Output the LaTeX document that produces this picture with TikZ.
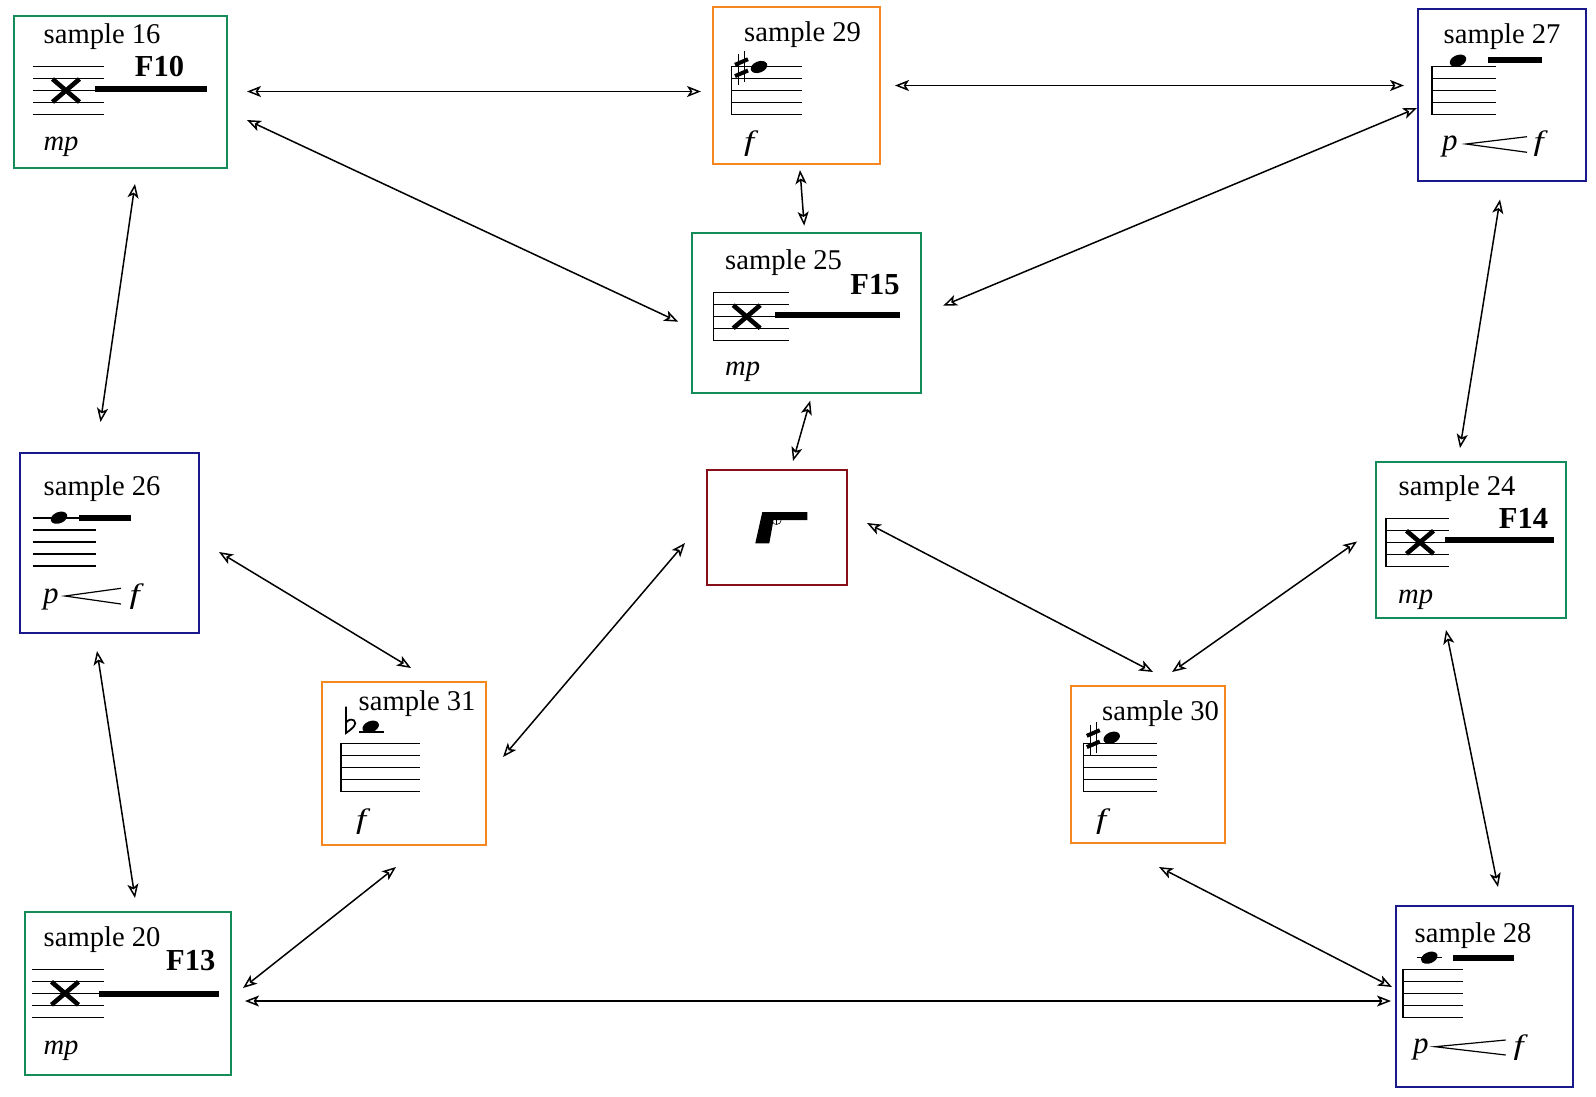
\documentclass[tikz,border=0pt]{standalone}
\usepackage{fontspec}
\setmainfont{Liberation Serif}
\newfontface\dynface[FakeStretch=1.3]{Liberation Serif Italic}
\usetikzlibrary{arrows.meta}

\definecolor{featgreen}{RGB}{20,140,90}
\definecolor{featorange}{RGB}{245,135,30}
\definecolor{featblue}{RGB}{25,25,140}
\definecolor{featred}{RGB}{135,15,25}

% x, top line y, right end
\newcommand{\staffl}[3]{\foreach \k in {0,1,2,3,4} {\draw[staffline] (#1,#2+12*\k) -- (#3,#2+12*\k);}}
\newcommand{\staffbar}[2]{\draw[line width=1.6pt] (#1,#2-0.5) -- (#1,#2+48.5);}
\newcommand{\xhead}[2]{\draw[line width=4.6pt] (#1-13.5,#2-11.5) -- (#1+13.5,#2+11.5) (#1-13.5,#2+11.5) -- (#1+13.5,#2-11.5);}
\newcommand{\notehd}[2]{\fill[rotate around={22:(#1,#2)}] (#1,#2) ellipse [x radius=8.6, y radius=5.6];}
\newcommand{\sharpsgn}[2]{\draw[line width=1.3pt] (#1-3,#2-14) -- (#1-3,#2+17) (#1+3,#2-17) -- (#1+3,#2+14);
	\draw[line width=4pt] (#1-6.5,#2-2.7) -- (#1+6.5,#2-8.3) (#1-6.5,#2+8.6) -- (#1+6.5,#2+3);}

\begin{document}
\begin{tikzpicture}[x=1pt,y=-1pt]

\tikzset{box/.style={rectangle,inner sep=0pt,line width=1.9pt,draw},}
\tikzset{fgreen/.style={box,draw=featgreen},}
\tikzset{forange/.style={box,draw=featorange},}
\tikzset{fblue/.style={box,draw=featblue},}
\tikzset{fred/.style={box,draw=featred},}
\tikzset{txt/.style={inner sep=0pt,anchor=base west,font=\fontsize{28.6}{32}\selectfont},}
\tikzset{dyn/.style={txt,font=\fontsize{28.6}{32}\selectfont\itshape},}
\tikzset{dynp/.style={txt,font=\fontsize{31}{34}\selectfont\itshape},}
\tikzset{dynf/.style={txt,font=\fontsize{28}{32}\dynface},}
\tikzset{ftag/.style={inner sep=0pt,anchor=base,font=\fontsize{30.5}{34}\selectfont\bfseries},}
\tikzset{staffline/.style={line width=1.1pt},}
\tikzset{dur/.style={line width=5.8pt},}
\tikzset{link/.style={<->,line width=1.5pt,>={Stealth[open,length=14pt,width=11pt,inset=3.5pt]}},}

\useasboundingbox (0,0) rectangle (1596,1096);

	\draw
		(120.5,92) node[fgreen,minimum width=213pt,minimum height=152pt] (s16) {}
		(796.5,85.5) node[forange,minimum width=167pt,minimum height=157pt] (s29) {}
		(1502,95) node[fblue,minimum width=168pt,minimum height=172pt] (s27) {}
		(806.5,313) node[fgreen,minimum width=229pt,minimum height=160pt] (s25) {}
		(777,527.5) node[fred,minimum width=140pt,minimum height=115pt] (gun) {}
		(1471,540) node[fgreen,minimum width=190pt,minimum height=156pt] (s24) {}
		(109.5,543) node[fblue,minimum width=179pt,minimum height=180pt] (s26) {}
		(404,763.5) node[forange,minimum width=164pt,minimum height=163pt] (s31) {}
		(1148,764.5) node[forange,minimum width=154pt,minimum height=157pt] (s30) {}
		(128,993.5) node[fgreen,minimum width=206pt,minimum height=163pt] (s20) {}
		(1484.5,996.5) node[fblue,minimum width=177pt,minimum height=181pt] (s28) {};

	% sample 16
	\node[txt] (t16) at (43.5,43.7) {sample 16};
	\node[ftag] (f16) at (159.5,76) {F10};
	\node[dyn] (d16) at (43.3,150.5) {mp};
	\staffl{33}{66.7}{104}
	\xhead{66}{90.5}
	\draw[dur] (95,88.7) -- (207,88.7);

	% sample 29
	\node[txt] (t29) at (744,41.7) {sample 29};
	\node[dynf] (d29) at (744,150) {f};
	\staffl{731}{66.7}{801.7}
	\staffbar{731.5}{66.7}
	\sharpsgn{741.5}{67.5}
	\notehd{759}{67}

	% sample 27
	\node[txt] (t27) at (1443.5,43) {sample 27};
	\node[dynp] (p27) at (1442,150) {p};
	\node[dynf] (d27) at (1533.5,150.5) {f};
	\staffl{1431.7}{66.7}{1495.7}
	\staffbar{1431.7}{66.7}
	\notehd{1458}{60.7}
	\draw[dur] (1488,60) -- (1542,60);
	\draw[line width=1.2pt] (1527,136.7) -- (1466,144) -- (1527,152.3);

	% sample 25
	\node[txt] (t25) at (725,269.3) {sample 25};
	\node[ftag] (f25) at (875,294) {F15};
	\node[dyn] (d25) at (725,375.5) {mp};
	\staffl{713.3}{292.7}{789}
	\staffbar{713.3}{292.7}
	\xhead{746.7}{316.7}
	\draw[dur] (775,314.7) -- (900,314.7);

	% center
	\fill (762.3,512) -- (807.3,512) -- (807.3,520) -- (773.5,520) -- (769.3,543.3) -- (755.3,543.3) -- cycle;
	\draw[line width=0.6pt] (781.2,520) arc [start angle=0,end angle=150,radius=4.5];
	\draw[line width=0.6pt] (776.7,520) -- (776.7,523.5);

	% sample 24
	\node[txt] (t24) at (1398.5,495) {sample 24};
	\node[ftag] (f24) at (1523.5,528.3) {F14};
	\node[dyn] (d24) at (1398,603) {mp};
	\staffl{1386}{518.3}{1449.3}
	\staffbar{1386}{518.3}
	\xhead{1420}{542.3}
	\draw[dur] (1445,539.7) -- (1554,539.7);

	% sample 26
	\node[txt] (t26) at (43.5,495) {sample 26};
	\node[dynp] (p26) at (43,603.5) {p};
	\node[dynf] (d26) at (129.5,603.5) {f};
	\staffl{33.3}{518}{96}
	\notehd{59}{517.7}
	\draw[dur] (79,518) -- (130.7,518);
	\draw[line width=1.2pt] (121,588.3) -- (65,596) -- (121,604);

	% sample 31
	\node[txt] (t31) at (358.5,710.3) {sample 31};
	\node[dynf] (d31) at (356,828) {f};
	\staffl{341}{743.3}{420}
	\staffbar{341}{743.3}
	\notehd{370.7}{726.7}
	\draw[line width=1.4pt] (359,732) -- (384,732);
	\draw[line width=1.8pt] (346,706.7) -- (346,733) .. controls (352,729) and (358,724) .. (354,720.5) .. controls (351,718.5) and (348,720) .. (346,722.5);

	% sample 30
	\node[txt] (t30) at (1102,720.5) {sample 30};
	\node[dynf] (d30) at (1096,828) {f};
	\staffl{1083.3}{743.3}{1156.7}
	\staffbar{1083.3}{743.3}
	\sharpsgn{1093.3}{738.5}
	\notehd{1111.7}{737.7}

	% sample 20
	\node[txt] (t20) at (43.5,946.7) {sample 20};
	\node[ftag] (f20) at (190.8,970.7) {F13};
	\node[dyn] (d20) at (43.3,1054.2) {mp};
	\staffl{31.7}{969.3}{104.3}
	\xhead{65}{993.3}
	\draw[dur] (99,993.7) -- (219,993.7);

	% sample 28
	\node[txt] (t28) at (1414.5,942.7) {sample 28};
	\node[dynp] (p28) at (1413,1053.5) {p};
	\node[dynf] (d28) at (1513.5,1054) {f};
	\staffl{1402.7}{969.3}{1463.3}
	\staffbar{1402.7}{969.3}
	\notehd{1429.3}{957.7}
	\draw[line width=1.4pt] (1416.7,957.7) -- (1442.3,957.7);
	\draw[dur] (1453,958) -- (1514,958);
	\draw[line width=1.2pt] (1505.7,1040) -- (1435,1046.7) -- (1505.7,1055);

	% links
	\draw[link] ([shift={(126.5,-0.5)}]s16.center) -- ([shift={(-95.5,6)}]s29.center);
	\draw[link] ([shift={(98.5,0)}]s29.center) -- ([shift={(-98,-9.5)}]s27.center);
	\draw[link] ([shift={(126.5,28)}]s16.center) -- ([shift={(-128.3,8.7)}]s25.center);
	\draw[link] ([shift={(-85,13)}]s27.center) -- ([shift={(136.7,-7.3)}]s25.center);
	\draw[link] ([shift={(3.5,84.5)}]s29.center) -- ([shift={(-2.3,-87.3)}]s25.center);
	\draw[link] ([shift={(3.7,87.7)}]s25.center) -- ([shift={(16,-66.5)}]gun.center);
	\draw[link] ([shift={(14.5,92)}]s16.center) -- ([shift={(-9,-121)}]s26.center);
	\draw[link] ([shift={(109.5,9)}]s26.center) -- ([shift={(7,-95.5)}]s31.center);
	\draw[link] ([shift={(99,-6.5)}]s31.center) -- ([shift={(-92,15.5)}]gun.center);
	\draw[link] ([shift={(90,-4.5)}]gun.center) -- ([shift={(5,-92.5)}]s30.center);
	\draw[link] ([shift={(-114,1.5)}]s24.center) -- ([shift={(24,-92.5)}]s30.center);
	\draw[link] ([shift={(-2,104.5)}]s27.center) -- ([shift={(-11,-92)}]s24.center);
	\draw[link] ([shift={(-25,90)}]s24.center) -- ([shift={(13.5,-109.5)}]s28.center);
	\draw[link] ([shift={(11,102.5)}]s30.center) -- ([shift={(-92.5,-9.5)}]s28.center);
	\draw[link] ([shift={(117,7.5)}]s20.center) -- ([shift={(-93.5,4.5)}]s28.center);
	\draw[link] ([shift={(115,-5.5)}]s20.center) -- ([shift={(-8,103.5)}]s31.center);
	\draw[link] ([shift={(-12.5,108)}]s26.center) -- ([shift={(7,-95.5)}]s20.center);

\end{tikzpicture}
\end{document}
